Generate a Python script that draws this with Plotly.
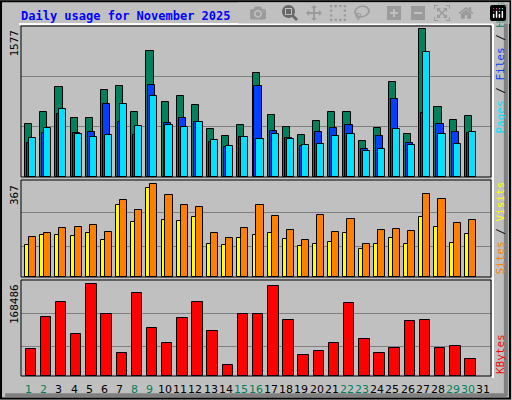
import plotly.graph_objects as go

days = list(range(1, 31))
day_labels = [str(d) for d in range(1, 32)]
weekend = [1, 2, 8, 9, 15, 16, 22, 23, 29, 30]
hits = [565, 693, 959, 629, 629, 927, 970, 693, 1343, 799, 863, 767, 511, 437, 554, 1108,
        661, 533, 448, 597, 693, 693, 384, 522, 1012, 458, 1577, 746, 607, 650]
files = [362, 469, 671, 469, 480, 778, 586, 448, 980, 575, 629, 586, 373, 320, 426, 970,
         490, 416, 330, 480, 522, 554, 298, 437, 831, 362, 682, 565, 480, 469]
pages = [416, 522, 725, 458, 426, 448, 778, 543, 863, 554, 533, 586, 394, 330, 426, 405,
         458, 405, 341, 352, 437, 458, 277, 298, 511, 341, 1332, 458, 352, 480]
sites = [128, 167, 167, 163, 175, 147, 285, 218, 352, 226, 222, 238, 132, 128, 155, 167,
         175, 151, 124, 132, 139, 175, 112, 132, 155, 132, 238, 199, 135, 171]
visits = [159, 175, 195, 199, 206, 179, 305, 266, 367, 325, 285, 277, 175, 155, 195, 285,
          242, 187, 147, 246, 179, 230, 132, 187, 191, 183, 329, 309, 214, 226]
kbytes = [50430, 107600, 135300, 78100, 168486, 113200, 43000, 151900, 87300, 61500, 105800,
          135300, 83600, 20900, 113200, 113200, 164800, 102100, 39400, 46700, 61500, 133400,
          68900, 43000, 52300, 100200, 102100, 52300, 56000, 32000]

BG = "#C0C0C0"
line = dict(color="black", width=1)
fig = go.Figure()
def bar(y, color, off, w, ax):
    fig.add_trace(go.Bar(x=days, y=y, marker=dict(color=color, line=line), offset=off, width=w,
                         xaxis="x", yaxis=ax, showlegend=False, hoverinfo="skip"))
bar(hits, "#00805C", -0.23, 0.47, "y")
bar(files, "#0040FF", -0.1, 0.47, "y")
bar(pages, "#00E0FF", 0.03, 0.47, "y")
bar(sites, "#FFFF00", -0.23, 0.4, "y2")
bar(visits, "#FF8000", 0.03, 0.47, "y2")
bar(kbytes, "#FF0000", -0.2, 0.69, "y3")

def ydom(a, b):
    return [1 - b / 400, 1 - a / 400]
grid = dict(showgrid=True, gridcolor="#808080", gridwidth=1, showticklabels=False,
            zeroline=False, ticks="")
fig.update_layout(
    width=512, height=400, margin=dict(l=0, r=0, t=0, b=0),
    paper_bgcolor=BG, plot_bgcolor=BG, barmode="overlay", bargap=0,
    xaxis=dict(domain=[21 / 512, 491 / 512], range=[0.5, 31.5], showticklabels=False,
               showgrid=False, zeroline=False, anchor="y3"),
    yaxis=dict(domain=ydom(26, 177), range=[0, 1609], tickvals=[533, 1066], **grid),
    yaxis2=dict(domain=ydom(180, 277), range=[0, 383], tickvals=[122, 253], **grid),
    yaxis3=dict(domain=ydom(280, 376), range=[0, 176400], tickvals=[54100, 115000], **grid),
)
shapes = [dict(type="rect", xref="paper", yref="paper", x0=0.002, x1=0.996, y0=0.004, y1=0.997,
               line=dict(color="black", width=2)),
          dict(type="line", xref="paper", yref="paper", x0=0.988, x1=0.988, y0=0.01, y1=0.99,
               line=dict(color="#808080", width=4)),
          dict(type="line", xref="paper", yref="paper", x0=0.01, x1=0.99, y0=0.012, y1=0.012,
               line=dict(color="#808080", width=4))]
for a, b in [(26, 177), (180, 277), (280, 376)]:
    d = ydom(a, b)
    shapes.append(dict(type="rect", xref="paper", yref="paper", x0=21 / 512, x1=491 / 512,
                       y0=d[0], y1=d[1], line=dict(color="black", width=1)))
shapes.append(dict(type="line", xref="paper", yref="paper", x0=19 / 512, x1=493 / 512,
                   y0=1 - 24 / 400, y1=1 - 24 / 400, line=dict(color="white", width=2)))
shapes.append(dict(type="line", xref="paper", yref="paper", x0=493 / 512, x1=493 / 512,
                   y0=1 - 378 / 400, y1=1 - 24 / 400, line=dict(color="white", width=2)))
fig.update_layout(shapes=shapes)

mono = "DejaVu Sans Mono"
ann = [dict(text="<b>Daily usage for November 2025</b>", x=19 / 512, y=1 - 16 / 400, xref="paper",
            yref="paper", showarrow=False, xanchor="left", yanchor="middle",
            font=dict(family=mono, size=12, color="#0000FF"))]
for txt, top in [(str(max(hits)), 28), (str(max(visits)), 183), (str(max(kbytes)), 282)]:
    ann.append(dict(text=txt, x=14 / 512, y=1 - top / 400, xref="paper", yref="paper",
                    showarrow=False, textangle=-90, xanchor="center", yanchor="top",
                    font=dict(family=mono, size=11, color="black")))
def rlabel(parts, bottom):
    html = "".join(f'<span style="color:{c}">{t}</span>' for t, c in parts)
    ann.append(dict(text=html, x=500 / 512, y=1 - bottom / 400, xref="paper", yref="paper",
                    showarrow=False, textangle=-90, xanchor="center", yanchor="bottom",
                    font=dict(family=mono, size=11)))
rlabel([("Pages", "#00E0FF"), (" / ", "black"), ("Files", "#0040FF"), (" / ", "black"),
        ("Hits", "#00805C")], 136)
rlabel([("Sites", "#FF8000"), (" / ", "black"), ("Visits", "#FFFF00")], 277)
rlabel([("KBytes", "#FF0000")], 376)
for i, lab in enumerate(day_labels):
    d = i + 1
    ann.append(dict(text=lab, x=d, y=1 - 389 / 400, xref="x", yref="paper", showarrow=False,
                    yanchor="middle", font=dict(family="DejaVu Sans", size=11,
                    color="#00805C" if d in weekend else "black")))
fig.update_layout(annotations=ann)
fig.write_html("out.html")
with open("out.html", encoding="utf-8") as f:
    html = f.read()
html = html.replace("<head>", "<head><style>html,body{margin:0;padding:0;overflow:hidden}</style>", 1)
with open("out.html", "w", encoding="utf-8") as f:
    f.write(html)
